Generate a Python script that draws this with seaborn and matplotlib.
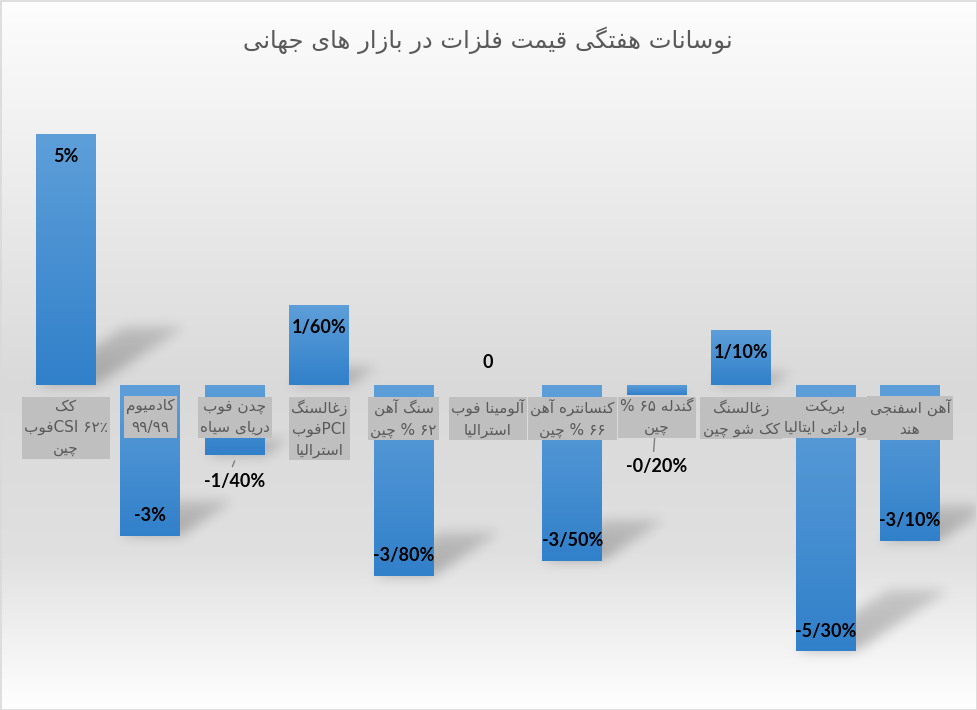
import numpy as np
import pandas as pd
import matplotlib
matplotlib.use("Agg")
import matplotlib.pyplot as plt
import seaborn as sns
from matplotlib.colors import LinearSegmentedColormap
from matplotlib.path import Path
from matplotlib.patches import Rectangle

# ---------------- data ----------------
title = "نوسانات هفتگی قیمت فلزات در بازار های جهانی"
categories = [
    "کک\n۶۲٪ CSIفوب\nچین",
    "کادمیوم\n۹۹/۹۹",
    "چدن فوب\nدریای سیاه",
    "زغالسنگ\nPCIفوب\nاسترالیا",
    "سنگ آهن\n۶۲ % چین",
    "آلومینا فوب\nاسترالیا",
    "کنسانتره آهن\n۶۶ % چین",
    "گندله ۶۵ %\nچین",
    "زغالسنگ\nکک شو چین",
    "بریکت\nوارداتی ایتالیا",
    "آهن اسفنجی\nهند",
]
values = [5, -3, -1.4, 1.6, -3.8, 0, -3.5, -0.2, 1.1, -5.3, -3.1]
value_labels = ["5%", "-3%", "-1/40%", "1/60%", "-3/80%", "0",
                "-3/50%", "-0/20%", "1/10%", "-5/30%", "-3/10%"]

# ---------------- Persian shaping + simple bidi ----------------
FORMS = {
    'ا': ('\uFE8D', '\uFE8E', None, None),
    'آ': ('\uFE81', '\uFE82', None, None),
    'ب': ('\uFE8F', '\uFE90', '\uFE91', '\uFE92'),
    'پ': ('\uFB56', '\uFB57', '\uFB58', '\uFB59'),
    'ت': ('\uFE95', '\uFE96', '\uFE97', '\uFE98'),
    'ث': ('\uFE99', '\uFE9A', '\uFE9B', '\uFE9C'),
    'ج': ('\uFE9D', '\uFE9E', '\uFE9F', '\uFEA0'),
    'چ': ('\uFB7A', '\uFB7B', '\uFB7C', '\uFB7D'),
    'ح': ('\uFEA1', '\uFEA2', '\uFEA3', '\uFEA4'),
    'خ': ('\uFEA5', '\uFEA6', '\uFEA7', '\uFEA8'),
    'د': ('\uFEA9', '\uFEAA', None, None),
    'ذ': ('\uFEAB', '\uFEAC', None, None),
    'ر': ('\uFEAD', '\uFEAE', None, None),
    'ز': ('\uFEAF', '\uFEB0', None, None),
    'ژ': ('\uFB8A', '\uFB8B', None, None),
    'س': ('\uFEB1', '\uFEB2', '\uFEB3', '\uFEB4'),
    'ش': ('\uFEB5', '\uFEB6', '\uFEB7', '\uFEB8'),
    'ص': ('\uFEB9', '\uFEBA', '\uFEBB', '\uFEBC'),
    'ض': ('\uFEBD', '\uFEBE', '\uFEBF', '\uFEC0'),
    'ط': ('\uFEC1', '\uFEC2', '\uFEC3', '\uFEC4'),
    'ظ': ('\uFEC5', '\uFEC6', '\uFEC7', '\uFEC8'),
    'ع': ('\uFEC9', '\uFECA', '\uFECB', '\uFECC'),
    'غ': ('\uFECD', '\uFECE', '\uFECF', '\uFED0'),
    'ف': ('\uFED1', '\uFED2', '\uFED3', '\uFED4'),
    'ق': ('\uFED5', '\uFED6', '\uFED7', '\uFED8'),
    'ک': ('\uFB8E', '\uFB8F', '\uFB90', '\uFB91'),
    'گ': ('\uFB92', '\uFB93', '\uFB94', '\uFB95'),
    'ل': ('\uFEDD', '\uFEDE', '\uFEDF', '\uFEE0'),
    'م': ('\uFEE1', '\uFEE2', '\uFEE3', '\uFEE4'),
    'ن': ('\uFEE5', '\uFEE6', '\uFEE7', '\uFEE8'),
    'و': ('\uFEED', '\uFEEE', None, None),
    'ه': ('\uFEE9', '\uFEEA', '\uFEEB', '\uFEEC'),
    'ی': ('\uFBFC', '\uFBFD', '\uFBFE', '\uFBFF'),
}
LAMALEF = {'ا': ('\uFEFB', '\uFEFC'), 'آ': ('\uFEF5', '\uFEF6')}


def jtype(c):
    if c in FORMS:
        return 'D' if FORMS[c][2] else 'R'
    return 'U'


def shape(s):
    res = []
    n = len(s)
    i = 0
    while i < n:
        c = s[i]
        if c not in FORMS:
            res.append(c)
            i += 1
            continue
        prev_join = i > 0 and jtype(s[i - 1]) == 'D'
        if c == 'ل' and i + 1 < n and s[i + 1] in LAMALEF:
            lig = LAMALEF[s[i + 1]]
            res.append(lig[1] if prev_join else lig[0])
            i += 2
            continue
        next_join = jtype(c) == 'D' and i + 1 < n and jtype(s[i + 1]) in ('D', 'R')
        iso, fin, ini, med = FORMS[c]
        if prev_join and next_join:
            res.append(med)
        elif prev_join:
            res.append(fin)
        elif next_join:
            res.append(ini)
        else:
            res.append(iso)
        i += 1
    return ''.join(res)


def cclass(c):
    o = ord(c)
    if '0' <= c <= '9' or 0x06F0 <= o <= 0x06F9 or 0x0660 <= o <= 0x0669:
        return 'EN'
    if c in '%٪':
        return 'ET'
    if c in '/.,:':
        return 'CS'
    if c.isspace():
        return 'WS'
    if 0x0600 <= o <= 0x06FF or 0xFB50 <= o <= 0xFEFF:
        return 'R'
    if c.isalpha():
        return 'L'
    return 'ON'


def bidi_line(line):
    s = shape(line)
    n = len(s)
    cls = [cclass(c) for c in s]
    changed = True
    while changed:
        changed = False
        for i in range(n):
            if cls[i] == 'ET' and ((i > 0 and cls[i - 1] == 'EN') or (i + 1 < n and cls[i + 1] == 'EN')):
                cls[i] = 'EN'
                changed = True
            if cls[i] == 'CS' and 0 < i < n - 1 and cls[i - 1] == 'EN' and cls[i + 1] == 'EN':
                cls[i] = 'EN'
                changed = True
    strong = lambda k: 'L' if k == 'L' else 'R'
    dirs = [None] * n
    for i in range(n):
        if cls[i] in ('L', 'R', 'EN'):
            dirs[i] = cls[i]
    i = 0
    while i < n:
        if dirs[i] is None:
            j = i
            while j < n and dirs[j] is None:
                j += 1
            left = strong(dirs[i - 1]) if i > 0 else 'R'
            right = strong(dirs[j]) if j < n else 'R'
            d = left if left == right else 'R'
            for k in range(i, j):
                dirs[k] = d
            i = j
        else:
            i += 1
    levels = [2 if d in ('L', 'EN') else 1 for d in dirs]
    chars = list(s)
    i = 0
    while i < n:
        if levels[i] >= 2:
            j = i
            while j < n and levels[j] >= 2:
                j += 1
            chars[i:j] = chars[i:j][::-1]
            i = j
        else:
            i += 1
    return ''.join(chars[::-1])


def fa(text):
    return '\n'.join(bidi_line(l) for l in text.split('\n'))


# ---------------- figure ----------------
sns.set_style("white")
plt.rcParams['font.family'] = ['DejaVu Sans']
W, H = 977, 710
fig = plt.figure(figsize=(W / 100, H / 100), dpi=100)

# background gradient
bg = fig.add_axes([0, 0, 1, 1], zorder=0)
bg.set_xlim(0, W)
bg.set_ylim(0, H)
bg.axis('off')
stops_pos = [0.0, 0.55, 0.78, 1.0]
stops_val = [253, 217, 224, 255]
yy = np.linspace(0, 1, H)
grey = np.interp(yy, stops_pos, stops_val) / 255.0
grad = np.repeat(grey[:, None], 2, axis=1)
bg.imshow(np.dstack([grad, grad, grad]), extent=[0, W, 0, H], origin='upper',
          aspect='auto', interpolation='bilinear', zorder=0)
bg.add_patch(Rectangle((0.5, 0.5), W - 1, H - 1, fill=False, ec='#d9d9d9', lw=1.2, zorder=3))

# main axes
ppu_y = 50.2
ppu_x = 84.4
ylim = (-6, 6)
ax_h = (ylim[1] - ylim[0]) * ppu_y
zero_px = 385
ax_top = zero_px - ylim[1] * ppu_y
ax_left = 66 - 0.5 * ppu_x
ax = fig.add_axes([ax_left / W, (H - ax_top - ax_h) / H, 11 * ppu_x / W, ax_h / H], zorder=1)
ax.set_facecolor('none')

df = pd.DataFrame({'pos': list(range(len(values))), 'value': values})
sns.barplot(data=df, x='pos', y='value', width=0.71, color='#5b9bd5',
            saturation=1, ax=ax, errorbar=None)
ax.set_xlim(-0.5, len(values) - 0.5)
ax.set_ylim(*ylim)
ax.axis('off')

bar_cmap = LinearSegmentedColormap.from_list('bar', ['#5e9fd9', '#3180ca'])
grad_col = np.linspace(0, 1, 256)[:, None]
bars = list(ax.patches)
for p in bars:
    x0 = p.get_x()
    w = p.get_width()
    y0 = p.get_y()
    h = p.get_height()
    p.set_facecolor('none')
    p.set_edgecolor('none')
    if h == 0:
        continue
    lo, hi = min(y0, y0 + h), max(y0, y0 + h)
    im = ax.imshow(grad_col, cmap=bar_cmap, extent=[x0, x0 + w, lo, hi], origin='upper',
                   aspect='auto', zorder=2, interpolation='bilinear')
    im.set_clip_path(p)
ax.set_xlim(-0.5, len(values) - 0.5)
ax.set_ylim(*ylim)

# shadows (raster, blurred)
alpha_map = np.zeros((H, W))
gx, gy = np.meshgrid(np.arange(W) + 0.5, np.arange(H) + 0.5)
for p in bars:
    h = p.get_height()
    if h == 0:
        continue
    x0 = p.get_x()
    x1 = x0 + p.get_width()
    lo = min(p.get_y(), p.get_y() + h)
    hi = max(p.get_y(), p.get_y() + h)
    (dx0, dyb), (dx1, dyt) = ax.transData.transform([(x0, lo), (x1, hi)])
    hp = dyt - dyb
    sdx, sdy = 0.35 * hp, 0.23 * hp
    poly = Path([(dx0, dyb), (dx1, dyb), (dx1 + sdx, dyb + sdy), (dx0 + sdx, dyb + sdy)])
    xmin, xmax = int(max(dx0 - 2, 0)), int(min(dx1 + sdx + 2, W))
    ymin, ymax = int(max(dyb - 2, 0)), int(min(dyb + sdy + 2, H))
    sub_x = gx[ymin:ymax, xmin:xmax]
    sub_y = gy[ymin:ymax, xmin:xmax]
    inside = poly.contains_points(np.column_stack([sub_x.ravel(), sub_y.ravel()])).reshape(sub_x.shape)
    t = np.clip((sub_y - dyb) / max(sdy, 1), 0, 1)
    a = np.where(inside, 0.25 * (1 - 0.4 * t), 0)
    alpha_map[ymin:ymax, xmin:xmax] = np.maximum(alpha_map[ymin:ymax, xmin:xmax], a)

sig = 6.0
k = np.arange(-18, 19)
kern = np.exp(-k ** 2 / (2 * sig ** 2))
kern /= kern.sum()
alpha_map = np.apply_along_axis(lambda r: np.convolve(r, kern, mode='same'), 1, alpha_map)
alpha_map = np.apply_along_axis(lambda c: np.convolve(c, kern, mode='same'), 0, alpha_map)
shadow = np.zeros((H, W, 4))
shadow[..., 3] = alpha_map
bg.imshow(shadow, extent=[0, W, 0, H], origin='lower', aspect='auto', zorder=1)

# category labels
for i, cat in enumerate(categories):
    ax.annotate(fa(cat), xy=(i, 0), xytext=(0, -14), textcoords='offset pixels',
                ha='center', va='top', multialignment='center', fontsize=11,
                color='#595959', family=['DejaVu Sans'], linespacing=1.5, zorder=6,
                bbox=dict(boxstyle='square,pad=0.15', fc='#bfbfbf', ec='none'))

# value labels
for i, (v, lab) in enumerate(zip(values, value_labels)):
    if v == 0:
        ya, off = 0, 22
    elif v > 0:
        ya, off = v, -23
    elif v <= -1.5:
        ya, off = v, 20
    else:
        ya, off = min(v, -1.1), -26
        ax.annotate('', xy=(i - 0.04, ya - 14 / ppu_y), xytext=(i + 0.01, v - 3 / ppu_y),
                    arrowprops=dict(arrowstyle='-', color='#7f7f7f', lw=1), zorder=4)
    ax.annotate(lab, xy=(i, ya), xytext=(0, off), textcoords='offset pixels',
                ha='center', va='center', fontsize=13, fontweight='bold',
                family=['Lato', 'DejaVu Sans'], color='black', zorder=7)

# title
fig.text(488 / W, 1 - 40 / H, fa(title), ha='center', va='center', fontsize=17.5,
         color='#595959', family=['DejaVu Sans'])

fig.savefig('out.png', dpi=100)
